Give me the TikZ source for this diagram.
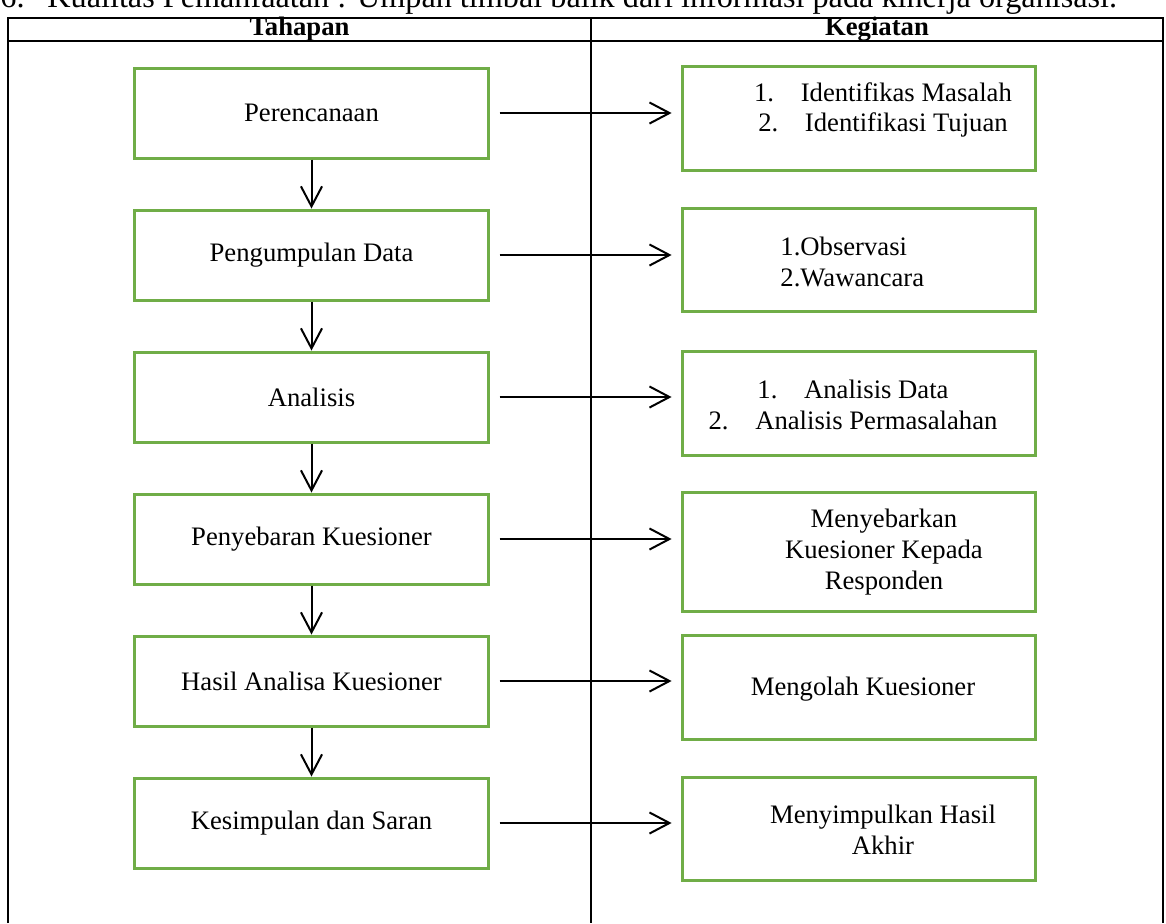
\documentclass[tikz,border=0pt]{standalone}
\usepackage{fontspec}
\setmainfont{Liberation Serif}
\usetikzlibrary{arrows.meta}
\definecolor{boxgreen}{RGB}{112,173,71}

\begin{document}
\begin{tikzpicture}[x=0.45pt, y=-0.45pt,
        every node/.style={font=\fontsize{12}{13.8}\selectfont},
        stage/.style={draw=boxgreen, line width=1.35pt, minimum width=158.85pt, minimum height=40.5pt, inner sep=0pt},
        act/.style={draw=boxgreen, line width=1.35pt, minimum width=158.85pt, minimum height=46.6pt, inner sep=0pt},
        txt/.style={align=center, inner sep=0pt},
        rule/.style={line width=0.9pt},
        arr/.style={-{Straight Barb[length=9pt,width=9.5pt]}, line width=0.9pt}]

                \useasboundingbox (0,0) rectangle (1166,923);
                \clip (0,0) rectangle (1166,923);

                % Table
                \draw[rule] (8,923) -- (8,18) -- (1163,18) -- (1163,923);
                \draw[rule] (8,41) -- (1163,41);
                \draw[rule] (591,18) -- (591,923);
                \node[anchor=base west, inner sep=0pt, font=\fontsize{14.5}{16}\selectfont] (no6) at (0,7) {6.};
                \node[anchor=base west, inner sep=0pt, font=\fontsize{14.5}{16}\selectfont] (judul) at (47,7) {Kualitas Pemanfaatan : Umpan timbal balik dari informasi pada kinerja organisasi.};
                \node[font=\bfseries\fontsize{12}{13.8}\selectfont] (tahapan) at (299.5,29.5) {Tahapan};
                \node[font=\bfseries\fontsize{12}{13.8}\selectfont] (kegiatan) at (877,29.5) {Kegiatan};

                % Nodes
                \node[stage] (p1) at (311.5,113) {Perencanaan};
                \node[stage] (p2) at (311.5,255) {Pengumpulan Data};
                \node[stage] (p3) at (311.5,397) {Analisis};
                \node[stage] (p4) at (311.5,539) {Penyebaran Kuesioner};
                \node[stage] (p5) at (311.5,681) {Hasil Analisa Kuesioner};
                \node[stage] (p6) at (311.5,823) {Kesimpulan dan Saran};

                \node[act] (k1) at (858.5,118.5) {};
                \node[act] (k2) at (858.5,260) {};
                \node[act] (k3) at (858.5,403.5) {};
                \node[act, minimum height=53.5pt] (k4) at (858.5,552) {};
                \node[act] (k5) at (858.5,687.5) {};
                \node[act] (k6) at (858.5,829) {};

                \node[txt] (k1t) at (883,110) {1.\hspace{12pt}Identifikas Masalah\\2.\hspace{12pt}Identifikasi Tujuan};
                \node[txt, align=left, anchor=west] (k2t) at (780,262) {1.Observasi\\2.Wawancara};
                \node[txt] (k3t) at (853,405) {1.\hspace{12pt}Analisis Data\\2.\hspace{12pt}Analisis Permasalahan};
                \node[txt] (k4t) at (884,552) {Menyebarkan\\Kuesioner Kepada\\Responden};
                \node[txt] (k5t) at (863,689) {Mengolah Kuesioner};
                \node[txt] (k6t) at (883,829.5) {Menyimpulkan Hasil\\Akhir};

                % Edges
                \draw[arr] (p1) -- (p2);
                \draw[arr] (p2) -- (p3);
                \draw[arr] (p3) -- (p4);
                \draw[arr] (p4) -- (p5);
                \draw[arr] (p5) -- (p6);
                \draw[arr, shorten <=4.5pt, shorten >=4pt] (p1.east) -- (p1.east -| k1.west);
                \draw[arr, shorten <=4.5pt, shorten >=4pt] (p2.east) -- (p2.east -| k2.west);
                \draw[arr, shorten <=4.5pt, shorten >=4pt] (p3.east) -- (p3.east -| k3.west);
                \draw[arr, shorten <=4.5pt, shorten >=4pt] (p4.east) -- (p4.east -| k4.west);
                \draw[arr, shorten <=4.5pt, shorten >=4pt] (p5.east) -- (p5.east -| k5.west);
                \draw[arr, shorten <=4.5pt, shorten >=4pt] (p6.east) -- (p6.east -| k6.west);

\end{tikzpicture}
\end{document}
